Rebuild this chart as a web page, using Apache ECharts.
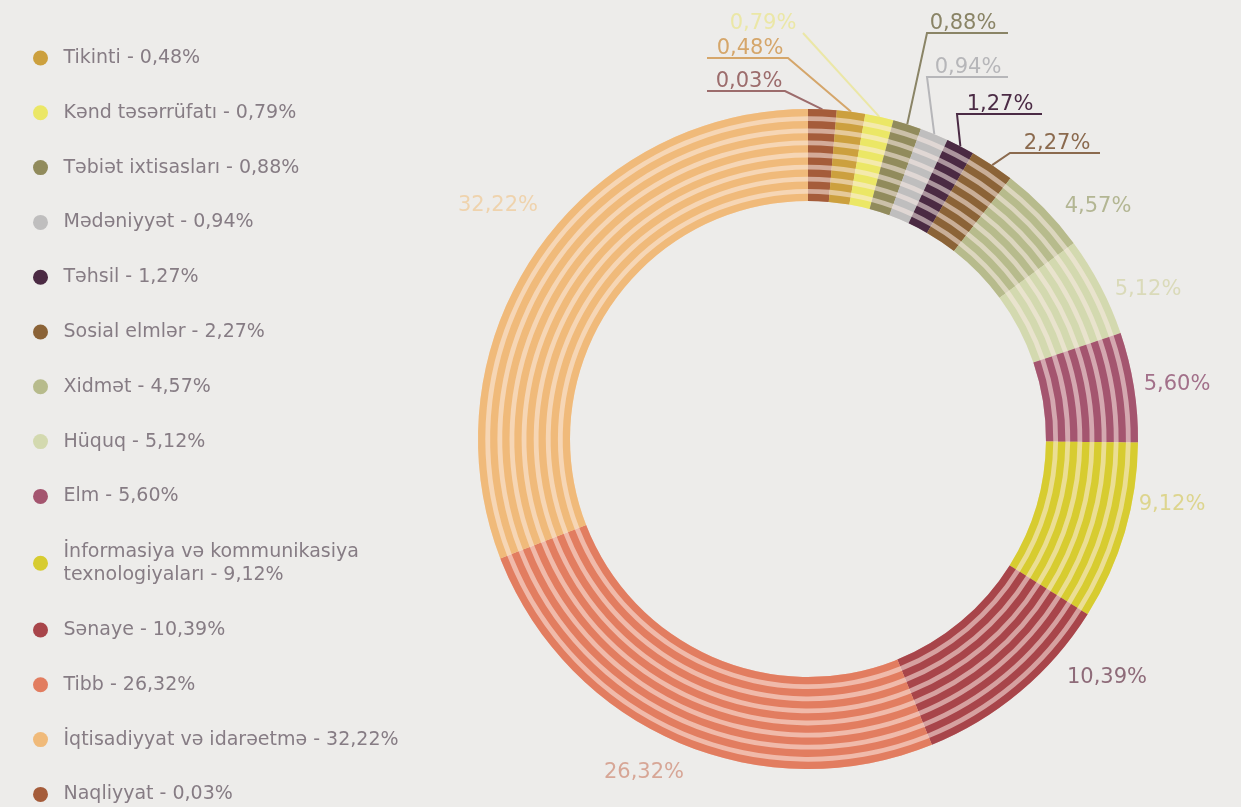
<!DOCTYPE html>
<html>
<head>
<meta charset="utf-8">
<script src="https://cdn.jsdelivr.net/npm/echarts@6/dist/echarts.min.js"></script>
<style>
  html, body { margin: 0; padding: 0; background: #edecea; }
  #chart { width: 1241px; height: 807px; }
</style>
</head>
<body>
<div id="chart"></div>
<script>
// Fields of study, clockwise from 12 o'clock
const categories = [
  'Naqliyyat',
  'Tikinti',
  'Kənd təsərrüfatı',
  'Təbiət ixtisasları',
  'Mədəniyyət',
  'Təhsil',
  'Sosial elmlər',
  'Xidmət',
  'Hüquq',
  'Elm',
  'İnformasiya və kommunikasiya texnologiyaları',
  'Sənaye',
  'Tibb',
  'İqtisadiyyat və idarəetmə'
];

// Share of each field, percent
const shares = [0.03, 0.48, 0.79, 0.88, 0.94, 1.27, 2.27, 4.57, 5.12, 5.60, 9.12, 10.39, 26.32, 32.22];

// Order of the legend entries
const legendOrder = [
  'Tikinti',
  'Kənd təsərrüfatı',
  'Təbiət ixtisasları',
  'Mədəniyyət',
  'Təhsil',
  'Sosial elmlər',
  'Xidmət',
  'Hüquq',
  'Elm',
  'İnformasiya və kommunikasiya texnologiyaları',
  'Sənaye',
  'Tibb',
  'İqtisadiyyat və idarəetmə',
  'Naqliyyat'
];

// Slice colours (same order as categories)
const sliceColors = [
  '#a55c3a', '#cca03e', '#ebe766', '#918b5c', '#bfbebe', '#4b2a43', '#8b6337',
  '#b7bb8c', '#d3d9af', '#a4556f', '#d7cc30', '#a8454a', '#e27d60', '#f0ba7a'
];

// Colours of the percentage labels around the ring
const labelColors = [
  '#9c6c6c', '#d5a66a', '#ebe7a6', '#8a8466', '#b6b6b9', '#4b2b45', '#8b6a4e',
  '#b3b693', '#dadab9', '#a2708a', '#ddd58e', '#8e6b79', '#d7a696', '#efd3ad'
];

const FONT = '"DejaVu Sans", "Noto Sans", sans-serif';
const fmt = v => v.toFixed(2).replace('.', ',') + '%';

// Ring geometry: 8 concentric bands over a lighter tint of each slice
const CENTER = [808, 439];
const R_IN = 238, R_OUT = 330, BANDS = 8, BAND_W = 7.3;
const GAP_W = (R_OUT - R_IN - BANDS * BAND_W) / (BANDS - 1);

function tint(hex, k) {
  const base = [251, 236, 230];
  const c = [1, 3, 5].map(i => parseInt(hex.substr(i, 2), 16));
  return 'rgb(' + c.map((v, i) => Math.round(v * (1 - k) + base[i] * k)).join(',') + ')';
}

// Label placement: text position, and for the small slices an elbowed leader line
const labelSpots = [
  { x: 749, ly: 91, ex: 785, fx: 707 },
  { x: 750, ly: 58, ex: 788, fx: 707 },
  { x: 763, ly: 33, ex: 803, fx: 803 },
  { x: 963, ly: 33, ex: 927, fx: 1008 },
  { x: 968, ly: 77, ex: 927, fx: 1008 },
  { x: 1000, ly: 114, ex: 957, fx: 1042 },
  { x: 1057, ly: 153, ex: 1010, fx: 1100 },
  { x: 1098, y: 207 },
  { x: 1148, y: 290 },
  { x: 1177, y: 385 },
  { x: 1172, y: 505 },
  { x: 1107, y: 678 },
  { x: 644, y: 773 },
  { x: 498, y: 206 }
];

const common = {
  type: 'pie',
  center: CENTER,
  startAngle: 90,
  clockwise: true,
  minAngle: 5,
  avoidLabelOverlap: false,
  silent: true,
  animation: false,
  emphasis: { disabled: true }
};

const series = [];
for (let b = 0; b < BANDS; b++) {
  const r0 = R_IN + b * (BAND_W + GAP_W);
  series.push(Object.assign({}, common, {
    name: 'band' + b,
    z: 3,
    radius: [r0, r0 + BAND_W],
    label: { show: false },
    labelLine: { show: false },
    data: categories.map((n, i) => ({
      name: n,
      value: shares[i],
      itemStyle: { color: sliceColors[i], borderWidth: 0 }
    }))
  }));
}

series.push(Object.assign({}, common, {
  name: 'base',
  z: 2,
  radius: [R_IN, R_OUT],
  label: {
    show: true,
    position: 'outside',
    formatter: p => fmt(p.value),
    fontFamily: FONT,
    fontSize: 21
  },
  labelLine: { show: true, length: 10, length2: 10, lineStyle: { width: 2 } },
  labelLayout: function (p) {
    const s = labelSpots[p.dataIndex];
    if (s.ly !== undefined && p.labelLinePoints) {
      return {
        x: s.x, y: s.ly + 1, align: 'center', verticalAlign: 'bottom',
        labelLinePoints: [p.labelLinePoints[0], [s.ex, s.ly], [s.fx, s.ly]]
      };
    }
    return { x: s.x, y: s.y, align: 'center', verticalAlign: 'middle' };
  },
  data: categories.map((n, i) => ({
    name: n,
    value: shares[i],
    itemStyle: { color: tint(sliceColors[i], 0.55), borderWidth: 0 },
    label: { color: labelColors[i] },
    labelLine: {
      show: labelSpots[i].ly !== undefined,
      lineStyle: { color: labelColors[i] }
    }
  }))
}));

const chart = echarts.init(document.getElementById('chart'), null, { renderer: 'canvas' });
chart.setOption({
  backgroundColor: '#edecea',
  animation: false,
  legend: {
    orient: 'vertical',
    left: 33,
    top: 47,
    height: 790,
    padding: 0,
    itemGap: 32.8,
    itemWidth: 36,
    itemHeight: 15,
    icon: 'circle',
    selectedMode: false,
    itemStyle: { borderWidth: 0 },
    textStyle: { fontFamily: FONT, fontSize: 19, lineHeight: 22, color: '#867c84' },
    formatter: name => {
      const i = categories.indexOf(name);
      return (name + ' - ' + fmt(shares[i])).replace(' kommunikasiya ', ' kommunikasiya\n');
    },
    data: legendOrder.map(n => n.indexOf('\u0130nformasiya') === 0
      ? { name: n, textStyle: { lineHeight: 23 } }
      : n)
  },
  series: series
});
</script>
</body>
</html>
